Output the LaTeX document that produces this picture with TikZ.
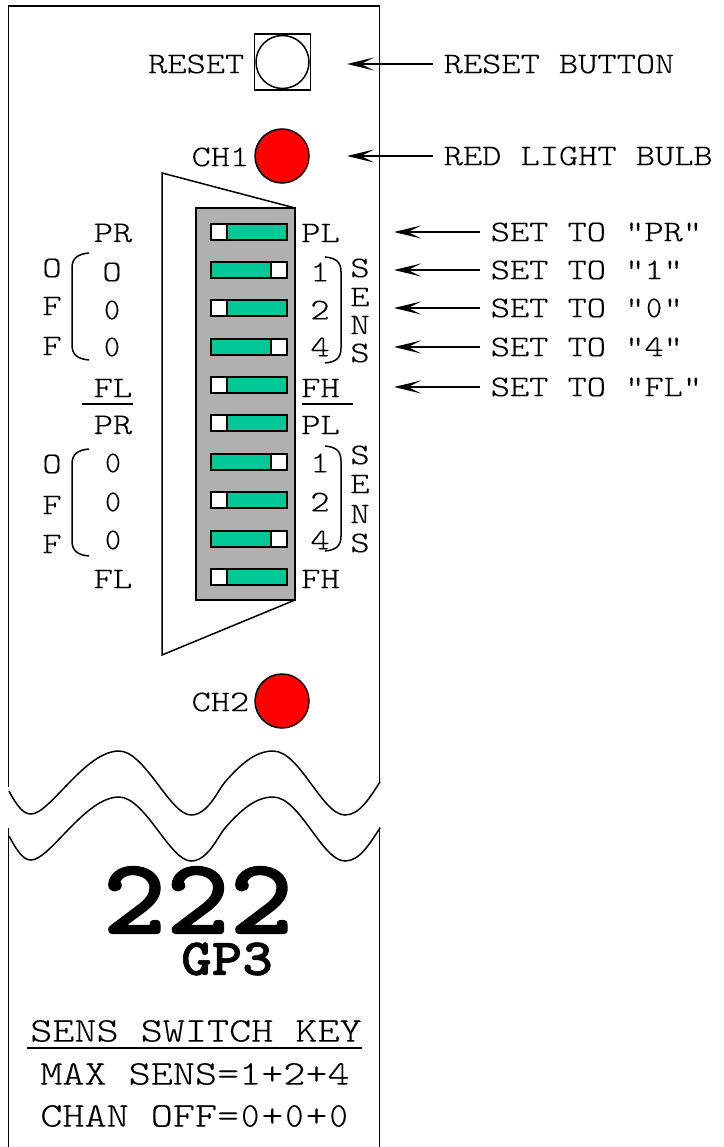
\documentclass[tikz,border=0pt]{standalone}
\usepackage{fontspec}
\newfontfamily\courfont[FakeStretch=1.22,FakeBold=0.2]{Latin Modern Mono Light}
\newfontfamily\courdigit[FakeBold=0.2]{Latin Modern Mono Light}
\newfontfamily\courbig[FakeStretch=1.12,FakeBold=1.2]{Latin Modern Mono Light}
\newcommand{\zr}{\hbox to 0.64em{\hss\courdigit 0\hss}}
\usetikzlibrary{positioning,arrows.meta}
\tikzset{
	lbl/.style={inner sep=0pt,font=\courfont\fontsize{30}{30}\selectfont},
	keylbl/.style={inner sep=0pt,font=\courfont\fontsize{34.5}{34.5}\selectfont},
	ptr/.style={line width=1.4pt,{Stealth[length=27pt,width=13pt,inset=13pt]}-,shorten >=10pt},
	swbar/.style={draw=black,line width=2pt,fill=swgreen,minimum width=76pt,minimum height=16pt,inner sep=0pt},
	swknob/.style={draw=black,line width=2pt,fill=white,minimum width=16pt,minimum height=16pt,inner sep=0pt},
	bulb/.style={circle,draw=black,line width=1.5pt,fill=red,minimum size=54pt,inner sep=0pt},
}
\definecolor{swgreen}{HTML}{00C896}
\definecolor{blockgray}{HTML}{B0B0B0}

\begin{document}
\begin{tikzpicture}[x=1pt,y=-1pt,on grid,line width=1.5pt]
	\useasboundingbox (0,0) rectangle (723,1147);
	%% panel outline
	\draw (8.5,787) -- (8.5,6) -- (379.5,6) -- (379.5,782);
	\draw (8.5,828) -- (8.5,1147);
	\draw (379.5,827) -- (379.5,1147);
	%% torn edge
	\draw (9,791) .. controls (18,808) and (24,814) .. (31,814) .. controls (50,814) and (85,751) .. (119,751) .. controls (145,751) and (170,815) .. (191,815) .. controls (208,815) and (218,790) .. (225,782) .. controls (240,765) and (255,751) .. (273,751) .. controls (300,751) and (322,815) .. (345,815) .. controls (360,815) and (370,797) .. (380,782);
	\draw (9,836) .. controls (18,853) and (24,860) .. (31,860) .. controls (50,860) and (85,797) .. (119,797) .. controls (145,797) and (170,861) .. (191,861) .. controls (208,861) and (218,836) .. (225,828) .. controls (240,811) and (255,797) .. (273,797) .. controls (300,797) and (322,861) .. (345,861) .. controls (360,861) and (370,843) .. (380,828);
	%% reset button
	\node[draw,minimum size=56pt,inner sep=0pt] (btnbox) at (282.5,62) {};
	\node[circle,draw,minimum size=53pt,inner sep=0pt] (btn) at (282.5,62) {};
	\node[lbl,anchor=east] (resetlbl) at (245,64) {RESET};
	%% bulbs
	\node[bulb] (bulb1) at (282,156) {};
	\node[lbl,anchor=east] (ch1) at (250,157) {CH1};
	\node[bulb] (bulb2) at (282,701) {};
	\node[lbl,anchor=east] (ch2) at (250,702) {CH2};
	%% connector block
	\draw (295,208) -- (162,173) -- (162,655) -- (295,600);
	\node[draw,fill=blockgray,minimum width=99pt,minimum height=392pt,inner sep=0pt] (block) at (245.5,404) {};
	%% switches
	\node[swbar] (s1) at (249,232) {};
	\node[swbar,below=38.2pt of s1] (s2) {};
	\node[swbar,below=38.2pt of s2] (s3) {};
	\node[swbar,below=38.2pt of s3] (s4) {};
	\node[swbar,below=38.6pt of s4] (s5) {};
	\node[swbar,below=38.2pt of s5] (s6) {};
	\node[swbar,below=38.2pt of s6] (s7) {};
	\node[swbar,below=38.6pt of s7] (s8) {};
	\node[swbar,below=38.4pt of s8] (s9) {};
	\node[swbar,below=38.6pt of s9] (s10) {};
	\node[swknob,left=30pt of s1] (k1) {};
	\node[swknob,right=30pt of s2] (k2) {};
	\node[swknob,left=30pt of s3] (k3) {};
	\node[swknob,right=30pt of s4] (k4) {};
	\node[swknob,left=30pt of s5] (k5) {};
	\node[swknob,left=30pt of s6] (k6) {};
	\node[swknob,right=30pt of s7] (k7) {};
	\node[swknob,left=30pt of s8] (k8) {};
	\node[swknob,right=30pt of s9] (k9) {};
	\node[swknob,left=30pt of s10] (k10) {};
	%% left labels
	\node[lbl] (pr1) at (113,233) {PR};
	\node[lbl] (o1) at (112,272) {O};
	\node[lbl,below=38pt of o1] (o2) {\zr};
	\node[lbl,below=37pt of o2] (o3) {\zr};
	\node[lbl] (fl1) at (113,388) {FL};
	\node[lbl] (pr2) at (113,425) {PR};
	\node[lbl] (o4) at (113,463) {\zr};
	\node[lbl,below=39pt of o4] (o5) {\zr};
	\node[lbl,below=38pt of o5] (o6) {\zr};
	\node[lbl] (fl2) at (113,579) {FL};
	\node[lbl] (off1) at (52,268) {O};
	\node[lbl,below=38pt of off1] (off2) {F};
	\node[lbl,below=40pt of off2] (off3) {F};
	\node[lbl] (off4) at (52,464) {O};
	\node[lbl,below=41pt of off4] (off5) {F};
	\node[lbl,below=39pt of off5] (off6) {F};
	%% right labels
	\node[lbl] (pl1) at (320.5,233) {PL};
	\node[lbl] (n1) at (320,272) {1};
	\node[lbl,below=38pt of n1] (n2) {2};
	\node[lbl,below=37pt of n2] (n4) {4};
	\node[lbl] (fh1) at (320.5,388) {FH};
	\node[lbl] (pl2) at (320.5,425) {PL};
	\node[lbl] (n5) at (320,463) {1};
	\node[lbl,below=39pt of n5] (n6) {2};
	\node[lbl,below=38pt of n6] (n7) {4};
	\node[lbl] (fh2) at (320.5,579) {FH};
	\node[lbl] (sa) at (360,268) {S};
	\node[lbl,below=29pt of sa] (sb) {E};
	\node[lbl,below=28pt of sb] (sc) {N};
	\node[lbl,below=28pt of sc] (sd) {S};
	\node[lbl] (se) at (360,455) {S};
	\node[lbl,below=29pt of se] (sf) {E};
	\node[lbl,below=30pt of sf] (sg) {N};
	\node[lbl,below=29pt of sg] (sh) {S};
	%% divider bars
	\draw (82,404) -- (133,404);
	\draw (302,404) -- (353,404);
	%% brackets
	\draw (89,253) .. controls (78,254) and (72,258) .. (72,268) -- (72,345) .. controls (72,355) and (78,359) .. (89,360);
	\draw (89,449) .. controls (78,450) and (72,454) .. (72,464) -- (72,541) .. controls (72,551) and (78,555) .. (89,556);
	\draw (325,257) .. controls (336,258) and (341,262) .. (341,272) -- (341,348) .. controls (341,358) and (336,362) .. (325,363);
	\draw (325,446) .. controls (336,447) and (341,451) .. (341,461) -- (341,536) .. controls (341,546) and (336,550) .. (325,551);
	%% callouts
	\node[lbl,anchor=west] (rbtn) at (443,64) {RESET BUTTON};
	\node[lbl,anchor=west] (rbulb) at (443,156) {RED LIGHT BULB};
	\node[lbl,anchor=west] (setpr) at (490,232) {SET TO “PR”};
	\node[lbl,anchor=west] (setone) at (490,270) {SET TO “1”};
	\node[lbl,anchor=west] (setzero) at (490,308) {SET TO “\zr”};
	\node[lbl,anchor=west] (setfour) at (490,347) {SET TO “4”};
	\node[lbl,anchor=west] (setfl) at (490,387) {SET TO “FL”};
	\coordinate (t1) at (347,64);
	\coordinate (t2) at (347,156);
	\coordinate (t3) at (394,232);
	\coordinate (t4) at (394,270);
	\coordinate (t5) at (394,308);
	\coordinate (t6) at (394,347);
	\coordinate (t7) at (394,387);
	\draw[ptr] (t1) -- (t1 -| rbtn.west);
	\draw[ptr] (t2) -- (t2 -| rbulb.west);
	\draw[ptr] (t3) -- (t3 -| setpr.west);
	\draw[ptr] (t4) -- (t4 -| setone.west);
	\draw[ptr] (t5) -- (t5 -| setzero.west);
	\draw[ptr] (t6) -- (t6 -| setfour.west);
	\draw[ptr] (t7) -- (t7 -| setfl.west);
	%% model number
	\node[inner sep=0pt,font=\courbig\bfseries\fontsize{108}{108}\selectfont] (model) at (198,900) {222};
	\node[inner sep=0pt,font=\courbig\bfseries\fontsize{52}{52}\selectfont] (gp) at (227,959) {GP3};
	%% key
	\node[keylbl] (keyhead) at (196,1031) {SENS SWITCH KEY};
	\draw (27,1048) -- (362,1048);
	\node[keylbl] (keymax) at (195,1074) {MAX SENS=1+2+4};
	\node[keylbl] (keyoff) at (195,1116) {CHAN OFF=\zr+\zr+\zr};
\end{tikzpicture}
\end{document}
